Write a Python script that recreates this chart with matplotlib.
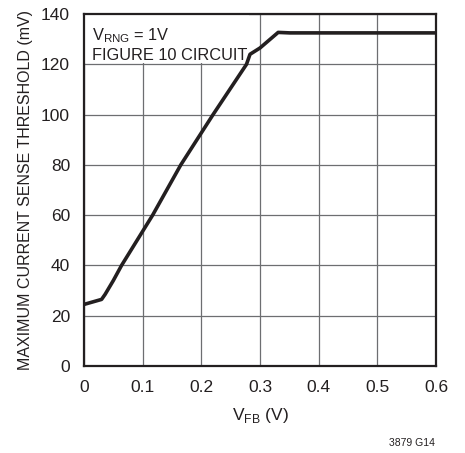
import matplotlib
matplotlib.use("Agg")
import matplotlib.pyplot as plt
from matplotlib.patches import Rectangle

# Daten
vfb = [0.0, 0.015, 0.03, 0.036, 0.05, 0.064, 0.117, 0.165, 0.22, 0.277, 0.283,
       0.30, 0.331, 0.351, 0.45, 0.6]
threshold = [24.5, 25.5, 26.5, 28.5, 34.0, 40.0, 60.0, 80.0, 100.0, 120.0, 124.0,
             126.5, 132.7, 132.5, 132.5, 132.5]

x_ticks = [0, 0.1, 0.2, 0.3, 0.4, 0.5, 0.6]
x_labels = ["0", "0.1", "0.2", "0.3", "0.4", "0.5", "0.6"]
y_ticks = [0, 20, 40, 60, 80, 100, 120, 140]

plt.rcParams["font.family"] = ["Liberation Sans", "DejaVu Sans"]
ink = "#231f20"

fig = plt.figure(figsize=(4.65, 4.53), dpi=100)
ax = fig.add_axes([0.1806, 0.192, 0.757, 0.777])

ax.plot(vfb, threshold, color=ink, linewidth=2.6, solid_joinstyle="round", zorder=3)

ax.set_xlim(0, 0.6)
ax.set_ylim(0, 140)
ax.set_xticks(x_ticks)
ax.set_xticklabels(x_labels)
ax.set_yticks(y_ticks)
ax.tick_params(axis="x", length=0, labelsize=12.5, pad=10, colors=ink)
ax.tick_params(axis="y", length=0, labelsize=12.5, pad=10, colors=ink)
ax.set_axisbelow(True)
ax.grid(True, color="#6d6e71", linewidth=0.9)
for s in ax.spines.values():
    s.set_linewidth(1.6)
    s.set_color(ink)

# weisser Kasten hinter der Beschriftung
ax.add_patch(Rectangle((0, 120.6), 0.282, 20, facecolor="white", edgecolor="none", zorder=1))

ax.set_xlabel(r"V$_{\mathregular{FB}}$ (V)", fontsize=12.5, labelpad=8, color=ink)
ax.set_ylabel("MAXIMUM CURRENT SENSE THRESHOLD (mV)", fontsize=11.5, labelpad=6, color=ink)

ax.text(0.022, 0.966, r"V$_{\mathregular{RNG}}$ = 1V", transform=ax.transAxes,
        fontsize=11.8, va="top", ha="left", color=ink, zorder=2)
ax.text(0.022, 0.903, "FIGURE 10 CIRCUIT", transform=ax.transAxes,
        fontsize=11.8, va="top", ha="left", color=ink, zorder=2)

fig.text(0.935, 0.011, "3879 G14", fontsize=7.5, ha="right", va="bottom", color=ink)

fig.savefig("out.png", dpi=100, facecolor="white")
